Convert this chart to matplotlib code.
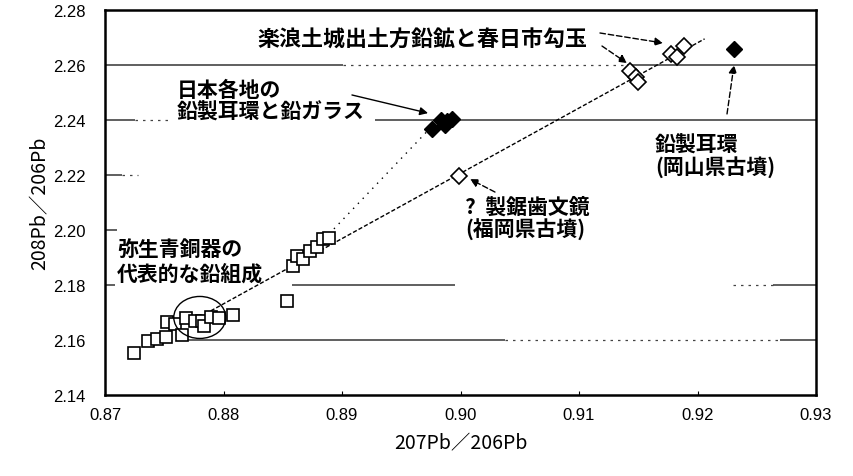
import matplotlib
matplotlib.use("Agg")
import matplotlib.pyplot as plt
from matplotlib.patches import Ellipse

plt.rcParams['font.family'] = ['Noto Sans CJK JP', 'DejaVu Sans']

# --- data -------------------------------------------------------------
# Yayoi bronzes (open squares)
yayoi_x = [0.87245, 0.87363, 0.87439, 0.87515, 0.87523, 0.87591, 0.87650,
           0.87684, 0.87759, 0.87819, 0.87835, 0.87895, 0.87962, 0.88080,
           0.88536, 0.88590, 0.88620, 0.88670, 0.88730, 0.88790, 0.88840,
           0.88890]
yayoi_y = [2.1553, 2.1596, 2.1604, 2.1611, 2.1665, 2.1658, 2.1618,
           2.1680, 2.1669, 2.1669, 2.1651, 2.1684, 2.1680, 2.1691,
           2.1742, 2.1869, 2.1905, 2.1895, 2.1924, 2.1938, 2.1967,
           2.1971]

# Open diamonds: mirror (Fukuoka) and Lelang galena / Kasuga magatama
open_dia_x = [0.89987, 0.91430, 0.91481, 0.91498, 0.91776, 0.91827, 0.91886]
open_dia_y = [2.2196, 2.2578, 2.2556, 2.2538, 2.2640, 2.2629, 2.2669]

# Filled diamonds: lead earrings and lead glass (Japan), earring (Okayama)
fill_dia_x = [0.89759, 0.89835, 0.89886, 0.89928, 0.89869, 0.92308]
fill_dia_y = [2.2367, 2.2400, 2.2396, 2.2404, 2.2382, 2.2658]

# Trend lines
trend_x = [0.8780, 0.9206]
trend_y = [2.1684, 2.2695]
mix_x = [0.8877, 0.8973]
mix_y = [2.1931, 2.2364]

x_ticks = [0.87, 0.88, 0.89, 0.90, 0.91, 0.92, 0.93]
y_ticks = [2.14, 2.16, 2.18, 2.20, 2.22, 2.24, 2.26, 2.28]

x_label = "207Pb／206Pb"
y_label = "208Pb／206Pb"

# --- figure -----------------------------------------------------------
W, H = 854, 477
fig = plt.figure(figsize=(W / 100, H / 100), dpi=100)
ax = fig.add_axes([105 / W, 1 - 396 / H, 711 / W, 385 / H])
ax.set_xlim(0.87, 0.93)
ax.set_ylim(2.14, 2.28)

for s in ax.spines.values():
    s.set_linewidth(1.8)
    s.set_color('black')

ax.set_xticks(x_ticks)
ax.set_xticklabels([f"{v:.2f}" for v in x_ticks])
ax.set_yticks(y_ticks)
ax.set_yticklabels([f"{v:.2f}" for v in y_ticks])
ax.tick_params(axis='x', direction='in', length=3, width=0.8, pad=9)
ax.tick_params(axis='y', length=0, pad=14)
for lab in ax.get_xticklabels() + ax.get_yticklabels():
    lab.set_fontfamily('Liberation Sans')
    lab.set_fontsize(12)

ax.set_xlabel(x_label, fontsize=14, labelpad=7)
ax.set_ylabel(y_label, fontsize=14, labelpad=2)

# broken horizontal rules (as printed)
gc = '#444444'
solid = [(2.26, 0.8700, 0.89008), (2.26, 0.91405, 0.9300),
         (2.24, 0.8700, 0.87253), (2.24, 0.89278, 0.9300),
         (2.22, 0.8700, 0.87143), (2.20, 0.8700, 0.87100),
         (2.18, 0.8700, 0.87085), (2.18, 0.88578, 0.89954),
         (2.18, 0.92637, 0.9300),
         (2.16, 0.87616, 0.90376), (2.16, 0.92696, 0.9300)]
for y, a, b in solid:
    ax.hlines(y, a, b, colors=gc, lw=1.2, zorder=1)
dotted = [(2.26, 0.89008, 0.91405), (2.24, 0.87253, 0.87549),
          (2.22, 0.87143, 0.87278), (2.18, 0.92300, 0.92637),
          (2.16, 0.90376, 0.92696)]
for y, a, b in dotted:
    ax.hlines(y, a, b, colors=gc, lw=0.9, linestyles=(0, (2, 4)), zorder=1)

# trend lines
ax.plot(trend_x, trend_y, color='black', lw=1.0, ls=(0, (3, 1.5)), zorder=2)
ax.plot(mix_x, mix_y, color='black', lw=1.0, ls=(0, (1, 4)), zorder=2)

# markers
ax.plot(yayoi_x, yayoi_y, ls='none', marker='s', ms=9, mfc='white',
        mec='black', mew=1.2, zorder=3)
ax.plot(open_dia_x, open_dia_y, ls='none', marker='D', ms=8, mfc='white',
        mec='black', mew=1.2, zorder=3)
ax.plot(fill_dia_x, fill_dia_y, ls='none', marker='D', ms=8, mfc='black',
        mec='black', zorder=3)

# circle around the representative Yayoi composition
ax.add_patch(Ellipse((0.87800, 2.1682), 0.00439, 0.01527, fill=False,
                     ec='black', lw=1.0, zorder=4))

# labels and arrows
tk = dict(fontsize=15, fontweight='bold', color='black')
ax.text(0.88283, 2.26945, "楽浪土城出土方鉛鉱と春日市勾玉", ha='left', va='center',
        fontsize=15.8, fontweight='bold', color='black')
ax.text(0.87608, 2.2471, "日本各地の\n鉛製耳環と鉛ガラス", ha='left', va='center',
        linespacing=1.05, **tk)
ax.text(0.87101, 2.1888, "弥生青銅器の\n代表的な鉛組成", ha='left', va='center',
        linespacing=1.2, **tk)
ax.text(0.90040, 2.2044, "?  製鋸歯文鏡\n(福岡県古墳)", ha='left', va='center',
        linespacing=1.05, **tk)
ax.text(0.91641, 2.2271, "鉛製耳環\n(岡山県古墳)", ha='left', va='center',
        linespacing=1.05, **tk)

arr_dash = dict(arrowstyle='-|>', color='black', lw=1.0, ls=(0, (4, 2)),
                mutation_scale=12, shrinkA=0, shrinkB=0)
arr_solid = dict(arrowstyle='-|>', color='black', lw=1.0,
                 mutation_scale=12, shrinkA=0, shrinkB=0)
ax.annotate("", xy=(0.91709, 2.2680), xytext=(0.91177, 2.27164), arrowprops=arr_dash)
ax.annotate("", xy=(0.91405, 2.2607), xytext=(0.91194, 2.2669), arrowprops=arr_dash)
ax.annotate("", xy=(0.89726, 2.2425), xytext=(0.89084, 2.2491), arrowprops=arr_solid)
ax.annotate("", xy=(0.90080, 2.2185), xytext=(0.90291, 2.2138), arrowprops=arr_dash)
ax.annotate("", xy=(0.92308, 2.2600), xytext=(0.92249, 2.2422), arrowprops=arr_dash)

fig.savefig("out.png", dpi=100)
